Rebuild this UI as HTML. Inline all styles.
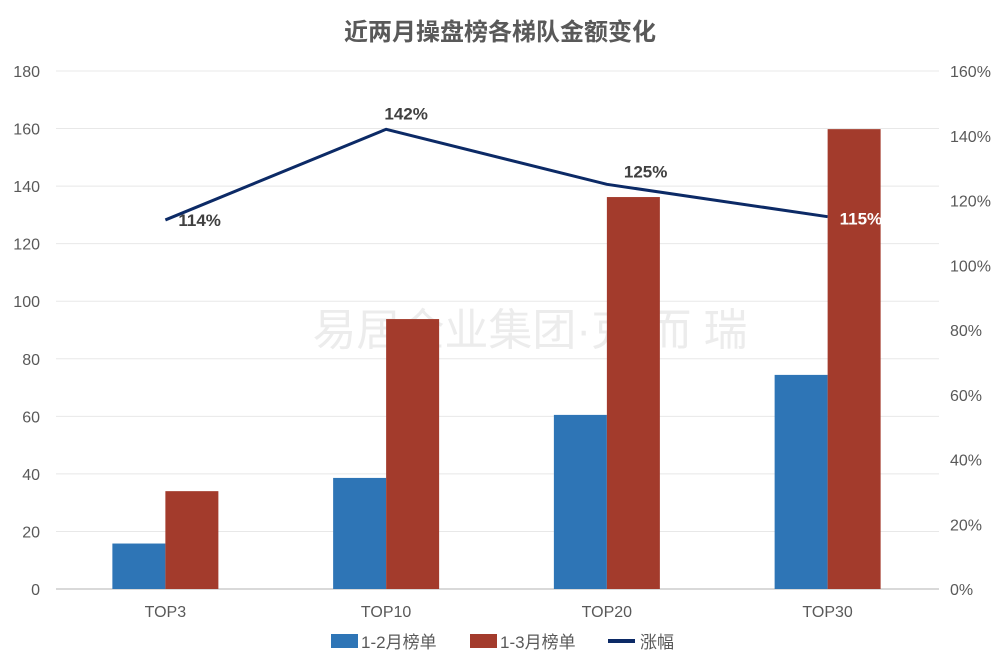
<!DOCTYPE html>
<html><head><meta charset="utf-8"><style>
body{margin:0;background:#fff;font-family:"Liberation Sans","Noto Sans CJK SC",sans-serif;}
</style></head><body>
<svg id="chart" width="1000" height="667" xmlns="http://www.w3.org/2000/svg" font-family="Liberation Sans, Noto Sans CJK SC, sans-serif">
<text x="500" y="40" text-anchor="middle" font-size="24" font-weight="bold" fill="#595959">近两月操盘榜各梯队金额变化</text>
<text x="530" y="345" text-anchor="middle" font-size="44" fill="#ececec">易居企业集团·克 而 瑞</text>
<g id="grid"></g><g id="bars"></g><g id="line"></g><g id="axes"></g>
<g>
<rect x="331" y="634" width="27" height="14" fill="#2E75B6"/>
<text x="361" y="648" font-size="17" fill="#595959">1-2月榜单</text>
<rect x="470" y="634" width="27" height="14" fill="#A33B2C"/>
<text x="500" y="648" font-size="17" fill="#595959">1-3月榜单</text>
<line x1="608" y1="641" x2="635" y2="641" stroke="#0C2A66" stroke-width="4"/>
<text x="640" y="648" font-size="17" fill="#595959">涨幅</text>
</g>
</svg>
<script>
const categories=["TOP3","TOP10","TOP20","TOP30"];
const janFeb=[15.8,38.6,60.5,74.4];
const janMar=[34,93.8,136.2,159.8];
const growth=[114,142,125,115];
const leftTicks=[0,20,40,60,80,100,120,140,160,180];
const rightTicks=[0,20,40,60,80,100,120,140,160];
const NS="http://www.w3.org/2000/svg";
const x0=56,x1=939,yB=589,yT=71;
const band=(x1-x0)/categories.length;
const yL=v=>yB-(v/180)*(yB-yT);
const yR=v=>yB-(v/160)*(yB-yT);
const cx=i=>x0+band*(i+0.5)-1;
function mk(t,a,p){const e=document.createElementNS(NS,t);for(const k in a)e.setAttribute(k,a[k]);p.appendChild(e);return e;}
const g=document.getElementById('grid'),b=document.getElementById('bars'),l=document.getElementById('line'),ax=document.getElementById('axes');
leftTicks.forEach(v=>{
 const ln=mk('line',{x1:x0,x2:x1,y1:yL(v),y2:yL(v),stroke:v===0?'#d9d9d9':'#e8e8e8','stroke-width':v===0?2:1},g);
 
 
 const t=mk('text',{x:40,y:yL(v)+6,'text-anchor':'end','font-size':16,fill:'#595959'},ax);t.textContent=v;
 
 
});
rightTicks.forEach(v=>{
 const t=mk('text',{x:950,y:yR(v)+6,'font-size':16,fill:'#595959'},ax);t.textContent=v+'%';
 
 
});
const bw=53;
categories.forEach((c,i)=>{
 const r1=mk('rect',{x:cx(i)-bw,y:yL(janFeb[i]),width:bw,height:yB-yL(janFeb[i]),fill:'#2E75B6'},b);
 
 
 const r2=mk('rect',{x:cx(i),y:yL(janMar[i]),width:bw,height:yB-yL(janMar[i]),fill:'#A33B2C'},b);
 
 
 const t=mk('text',{x:cx(i),y:617,'text-anchor':'middle','font-size':16,fill:'#595959'},ax);t.textContent=c;
 
 
});
const pl=mk('polyline',{points:growth.map((v,i)=>cx(i)+','+yR(v)).join(' '),fill:'none',stroke:'#0C2A66','stroke-width':3},l);


const offs=[[13,6],[20,-10],[17,-7],[12,8]];
growth.forEach((v,i)=>{
 const t=mk('text',{x:cx(i)+offs[i][0],y:yR(v)+offs[i][1],'font-size':17,'font-weight':'bold',fill:i===3?'#ffffff':'#404040','text-anchor':i===1?'middle':'start'},l);
 t.textContent=v+'%';
 
 
});
</script>
</body></html>
